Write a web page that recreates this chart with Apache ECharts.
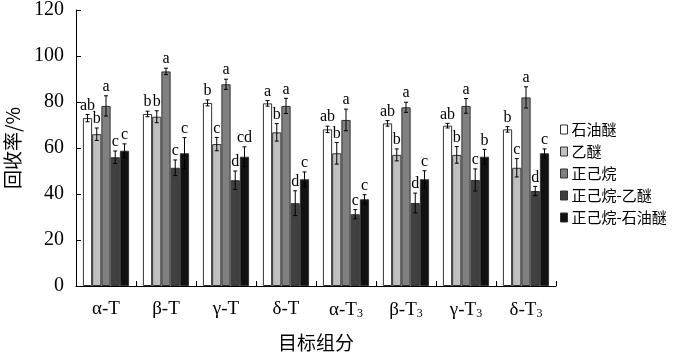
<!DOCTYPE html>
<html><head><meta charset="utf-8">
<script src="https://cdn.jsdelivr.net/npm/echarts@6/dist/echarts.min.js"></script>
<style>html,body{margin:0;padding:0;background:#fff}#c{width:674px;height:355px}</style>
</head><body><div id="c"></div>
<script>
const categories = ['α-T','β-T','γ-T','δ-T','α-T3','β-T3','γ-T3','δ-T3'];
const seriesNames = ['石油醚','乙醚','正己烷','正己烷-乙醚','正己烷-石油醚'];
const yTicks = [0,20,40,60,80,100,120];

const petroleumEther = [73.0, 74.8, 79.6, 79.4, 68.1, 70.7, 69.7, 68.1];
const diethylEther   = [66.0, 73.6, 61.7, 66.8, 57.7, 57.0, 57.0, 51.4];
const hexane         = [78.3, 93.3, 87.7, 78.3, 72.2, 77.7, 78.3, 82.0];
const hexaneEther    = [56.0, 51.4, 46.0, 36.0, 31.2, 36.1, 46.1, 41.3];
const hexanePetEther = [58.8, 57.7, 56.2, 46.4, 37.7, 46.4, 56.2, 57.7];

const errPetroleumEther = [1.6, 1.2, 1.3, 1.2, 1.4, 1.2, 1.0, 1.2];
const errDiethylEther   = [2.7, 2.6, 2.9, 3.8, 4.7, 2.6, 3.6, 4.0];
const errHexane         = [4.4, 1.4, 2.2, 3.3, 4.7, 2.2, 3.2, 4.6];
const errHexaneEther    = [2.7, 3.4, 4.0, 5.4, 2.0, 4.3, 4.8, 2.0];
const errHexanePetEther = [3.0, 6.8, 4.3, 3.2, 2.0, 3.7, 3.2, 1.9];

const letPetroleumEther = ['ab','b','b','a','ab','ab','ab','b'];
const letDiethylEther   = ['b','b','c','b','b','b','b','c'];
const letHexane         = ['a','a','a','a','a','a','a','a'];
const letHexaneEther    = ['c','c','d','d','c','d','c','d'];
const letHexanePetEther = ['c','c','cd','c','c','c','b','c'];

const values = [petroleumEther, diethylEther, hexane, hexaneEther, hexanePetEther];
const errs = [errPetroleumEther, errDiethylEther, errHexane, errHexaneEther, errHexanePetEther];
const lets = [letPetroleumEther, letDiethylEther, letHexane, letHexaneEther, letHexanePetEther];
const colors = ['#ffffff','#c0c0c0','#808080','#404040','#111111'];

const GAP = 0.23;
const N = 5;
const serif = '"Liberation Serif","Times New Roman",serif';
const cjk = '"Noto Sans CJK SC",sans-serif';

const series = [];
values.forEach((v, k) => {
  series.push({
    name: seriesNames[k], type: 'bar', data: v,
    barGap: '0%', barCategoryGap: (GAP*100)+'%',
    itemStyle: {color: colors[k], borderColor: '#333', borderWidth: 1},
    silent: true
  });
});
values.forEach((v, k) => {
  series.push({
    type: 'custom', silent: true, z: 5,
    data: v.map((val, i) => [i, val, errs[k][i]]),
    renderItem: function (params, api) {
      const i = api.value(0), val = api.value(1), e = api.value(2);
      const band = api.size([1, 0])[0];
      const bw = band * (1 - GAP) / N;
      const c0 = api.coord([i, val]);
      const x = c0[0] - band * (1 - GAP) / 2 + bw * (k + 0.5);
      const yt = api.coord([i, val + e])[1];
      const yb = api.coord([i, val - e])[1];
      const cap = 2;
      const st = {stroke: '#000', lineWidth: 1};
      return {type: 'group', children: [
        {type: 'line', shape: {x1: x, y1: yt, x2: x, y2: yb}, style: st},
        {type: 'line', shape: {x1: x-cap, y1: yt, x2: x+cap, y2: yt}, style: st},
        {type: 'line', shape: {x1: x-cap, y1: yb, x2: x+cap, y2: yb}, style: st},
        {type: 'text', x: x, y: yt - 1, style: {text: lets[k][params.dataIndex], fill: '#000',
          font: '16px ' + serif, textAlign: 'center', textVerticalAlign: 'bottom'}}
      ]};
    }
  });
});

const chart = echarts.init(document.getElementById('c'));
chart.setOption({
  animation: false,
  grid: {left: 76, right: 118, top: 10, bottom: 69, containLabel: false, outerBoundsMode: 'none'},
  legend: {
    data: seriesNames, orient: 'vertical', left: 555, top: 117,
    icon: 'rect', itemWidth: 7, itemHeight: 9, itemGap: 7,
    itemStyle: {borderColor: '#333', borderWidth: 1},
    textStyle: {fontFamily: cjk, fontSize: 15, color: '#000', padding: [0,0,0,-1]},
    selectedMode: false
  },
  xAxis: {
    type: 'category', data: categories,
    name: '目标组分', nameLocation: 'middle', nameGap: 47,
    nameTextStyle: {fontFamily: cjk, fontSize: 19, color: '#000'},
    axisLine: {show: true, onZero: false, lineStyle: {color: '#000', width: 1}},
    axisTick: {show: true, interval: 0, inside: true, length: 5, lineStyle: {color: '#000', width: 1}},
    axisLabel: {
      interval: 0, margin: 14, color: '#000', fontFamily: serif, fontSize: 19,
      formatter: s => s.endsWith('3') ? s.slice(0, -1) + '{sub|3}' : s,
      rich: {sub: {fontFamily: serif, fontSize: 12, verticalAlign: 'bottom', padding: [8,0,0,0]}}
    }
  },
  yAxis: {
    type: 'value', min: 0, max: 120, interval: 20,
    name: '回收率/%', nameLocation: 'middle', nameGap: 54, nameRotate: 90,
    nameTextStyle: {fontFamily: cjk, fontSize: 19, color: '#000'},
    axisLine: {show: true, onZero: false, lineStyle: {color: '#000', width: 1}},
    axisTick: {show: true, inside: true, length: 5, lineStyle: {color: '#000', width: 1}},
    splitLine: {show: true, lineStyle: {width: 1, color: ['#000', 'rgba(0,0,0,0)', 'rgba(0,0,0,0)', 'rgba(0,0,0,0)', 'rgba(0,0,0,0)', 'rgba(0,0,0,0)', 'rgba(0,0,0,0)']}},
    axisLabel: {margin: 12, color: '#000', fontFamily: serif, fontSize: 20,
      formatter: v => yTicks.includes(v) ? String(v) : ''}
  },
  series: series
});
</script></body></html>
